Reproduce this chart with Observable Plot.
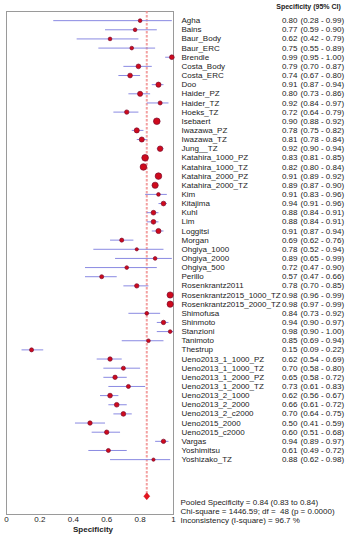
<!DOCTYPE html>
<html>
<head>
<meta charset="utf-8">
<script src="https://cdn.jsdelivr.net/npm/d3@7"></script>
<script src="https://cdn.jsdelivr.net/npm/@observablehq/plot@0.6"></script>
<style>
  html, body { margin: 0; padding: 0; background: #fff; }
  #chart svg { display: block; }
</style>
</head>
<body>
<div id="chart"></div>
<script>
// Study-level specificity estimates with 95% confidence intervals
const studies = [
  "Agha", "Bains", "Baur_Body", "Baur_ERC", "Brendle", "Costa_Body", "Costa_ERC",
  "Doo", "Haider_PZ", "Haider_TZ", "Hoeks_TZ", "Isebaert", "Iwazawa_PZ", "Iwazawa_TZ",
  "Jung__TZ", "Katahira_1000_PZ", "Katahira_1000_TZ", "Katahira_2000_PZ",
  "Katahira_2000_TZ", "Kim", "Kitajima", "Kuhl", "Lim", "Loggitsi", "Morgan",
  "Ohgiya_1000", "Ohgiya_2000", "Ohgiya_500", "Perillo", "Rosenkrantz2011",
  "Rosenkrantz2015_1000_TZ", "Rosenkrantz2015_2000_TZ", "Shimofusa", "Shinmoto",
  "Stanzioni", "Tanimoto", "Thestrup", "Ueno2013_1_1000_PZ", "Ueno2013_1_1000_TZ",
  "Ueno2013_1_2000_PZ", "Ueno2013_1_2000_TZ", "Ueno2013_2_1000", "Ueno2013_2_2000",
  "Ueno2013_2_c2000", "Ueno2015_2000", "Ueno2015_c2000", "Vargas", "Yoshimitsu",
  "Yoshizako_TZ"
];
const specificity = [
  0.80, 0.77, 0.62, 0.75, 0.99, 0.79, 0.74, 0.91, 0.80, 0.92, 0.72, 0.90, 0.78, 0.81,
  0.92, 0.83, 0.82, 0.91, 0.89, 0.91, 0.94, 0.88, 0.88, 0.91, 0.69, 0.78, 0.89, 0.72,
  0.57, 0.78, 0.98, 0.98, 0.84, 0.94, 0.98, 0.85, 0.15, 0.62, 0.70, 0.65, 0.73, 0.62,
  0.66, 0.70, 0.50, 0.60, 0.94, 0.61, 0.88
];
const ciLower = [
  0.28, 0.59, 0.42, 0.55, 0.95, 0.70, 0.67, 0.87, 0.73, 0.84, 0.64, 0.88, 0.75, 0.78,
  0.90, 0.81, 0.80, 0.89, 0.87, 0.83, 0.91, 0.84, 0.84, 0.87, 0.62, 0.52, 0.65, 0.47,
  0.47, 0.70, 0.96, 0.97, 0.73, 0.90, 0.90, 0.69, 0.09, 0.54, 0.58, 0.58, 0.61, 0.56,
  0.61, 0.64, 0.41, 0.51, 0.89, 0.49, 0.62
];
const ciUpper = [
  0.99, 0.90, 0.79, 0.89, 1.00, 0.87, 0.80, 0.94, 0.86, 0.97, 0.79, 0.92, 0.82, 0.84,
  0.94, 0.85, 0.84, 0.92, 0.90, 0.96, 0.96, 0.91, 0.91, 0.94, 0.76, 0.94, 0.99, 0.90,
  0.66, 0.85, 0.99, 0.99, 0.92, 0.97, 1.00, 0.94, 0.22, 0.69, 0.80, 0.72, 0.83, 0.67,
  0.72, 0.75, 0.59, 0.68, 0.97, 0.72, 0.98
];
// Relative study weights (%), shown as marker area
const weight = [
  1.4, 1.4, 1.4, 1.4, 2.3, 2.3, 2.3, 2.7, 2.7, 1.7, 2.0, 4.5, 2.7, 2.7,
  3.1, 4.5, 4.5, 4.5, 4.0, 1.4, 2.3, 2.3, 2.3, 2.7, 1.7, 1.1, 1.4, 1.4,
  1.7, 2.0, 4.0, 4.0, 1.4, 2.0, 1.4, 1.4, 1.7, 2.0, 1.7, 2.0, 1.7, 2.3,
  2.3, 2.3, 2.0, 2.0, 2.0, 1.7, 1.1
];

// Pooled result and heterogeneity statistics
const pooled = {est: 0.84, lo: 0.83, hi: 0.84};
const statLines = [
  "Pooled Specificity = 0.84 (0.83 to 0.84)",
  "Chi-square = 1446.59; df =  48 (p = 0.0000)",
  "Inconsistency (I-square) = 96.7 %"
];
const xTicks = [0, 0.2, 0.4, 0.6, 0.8, 1];
const header = "Specificity (95% CI)";
const xLabel = "Specificity";

const fmt = d3.format(".2f");
const rows = studies.map((name, i) => ({
  name, i,
  est: specificity[i], lo: ciLower[i], hi: ciUpper[i], w: weight[i],
  value: fmt(specificity[i]),
  ci: `(${fmt(ciLower[i])} - ${fmt(ciUpper[i])})`
}));
const pooledRow = studies.length + 3;

// Slightly elongated filled diamond for the pooled estimate
const pooledDiamond = {
  draw(context, size) {
    const h = Math.sqrt(size / Math.PI);
    context.moveTo(0, -h * 1.15);
    context.lineTo(h, 0);
    context.lineTo(0, h * 1.15);
    context.lineTo(-h, 0);
    context.closePath();
  }
};

const font = "'Liberation Sans', Arial, Helvetica, sans-serif";

const chart = Plot.plot({
  width: 357,
  height: 534,
  marginLeft: 6,
  marginRight: 184,
  marginTop: 11,
  marginBottom: 20,
  style: {fontFamily: font, fontSize: "8px", color: "#222", background: "#fff", overflow: "visible"},
  x: {domain: [0, 1]},
  y: {domain: [-1, 54], reverse: true, axis: null},
  r: {type: "sqrt", domain: [0, 4.5], range: [0, 3.3]},
  marks: [
    Plot.frame({stroke: "#9a9a9a", strokeWidth: 1}),
    Plot.axisX({ticks: xTicks, tickSize: 0, tickPadding: 2, tickFormat: d => `${d}`, label: null, fill: "#222"}),
    Plot.text([xLabel], {frameAnchor: "bottom", dy: 17, dx: 3, fontWeight: "bold", fill: "#222"}),
    // pooled estimate reference line
    Plot.ruleX([pooled], {x: "est", y1: -1, y2: pooledRow, stroke: "#f08a8a", strokeWidth: 2, strokeDasharray: "2.5,1.5", strokeOpacity: 0.8}),
    // confidence intervals
    Plot.link(rows, {x1: "lo", x2: "hi", y1: "i", y2: "i", stroke: "#8a8ae2", strokeWidth: 1}),
    // point estimates
    Plot.dot(rows, {x: "est", y: "i", r: "w", fill: "#cf0a1c", stroke: "#7c0d2f", strokeWidth: 0.7}),
    Plot.dot([pooled], {x: "est", y: () => pooledRow, r: 3, symbol: () => pooledDiamond, fill: "#e5141c", stroke: "#c00010", strokeWidth: 0.5}),
    // right-hand table
    Plot.text([header], {x: () => 1, y: () => -1, dx: 135, dy: -5, textAnchor: "middle", fontWeight: "bold", fontSize: 7, fill: "#222"}),
    Plot.text(rows, {x: () => 1, y: "i", text: "name", dx: 8, textAnchor: "start", fill: "#222"}),
    Plot.text(rows, {x: () => 1, y: "i", text: "value", dx: 124, textAnchor: "end", fill: "#222"}),
    Plot.text(rows, {x: () => 1, y: "i", text: "ci", dx: 127, textAnchor: "start", fill: "#222"}),
    // heterogeneity summary, one line per row below the pooled estimate
    Plot.text(statLines, {x: () => 1, y: (d, i) => pooledRow + 0.65 + i, text: d => d, dx: 7, textAnchor: "start", fill: "#222"})
  ]
});

document.getElementById("chart").append(chart);
</script>
</body>
</html>
